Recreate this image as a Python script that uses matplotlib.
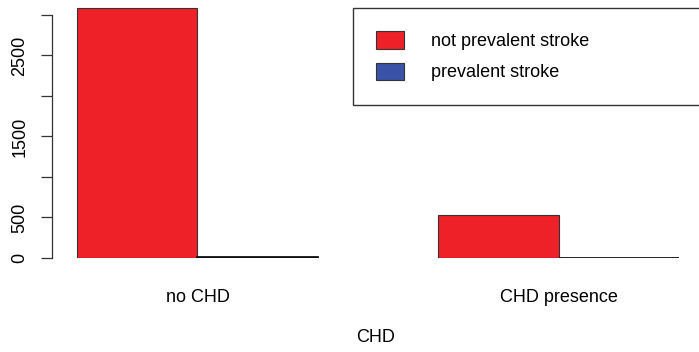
import numpy as np
import matplotlib
import matplotlib.pyplot as plt
from matplotlib.patches import Patch

matplotlib.use('Agg')

# Counts per CHD group, split by prevalent stroke
groups = ["no CHD", "CHD presence"]
not_stroke = [3090, 535]
stroke = [8, 5]
series_labels = ["not prevalent stroke", "prevalent stroke"]
colors = ["#EE2128", "#3A52A8"]

plt.rcParams['font.family'] = ['Liberation Sans', 'DejaVu Sans']

fig = plt.figure(figsize=(6.99, 3.52), dpi=100)
ax = fig.add_axes([52 / 699, (352 - 258) / 352, 1 - 52 / 699, 258 / 352])

# barplot(beside=TRUE) layout: one bar gap between groups
centers = np.array([2.0, 5.0])
ax.bar(centers - 0.5, not_stroke, width=1.0, color=colors[0],
       edgecolor="#333333", linewidth=0.8)
ax.bar(centers + 0.5, stroke, width=1.0, color=colors[1],
       edgecolor="#111111", linewidth=1.3)

ax.set_xlim(0.793, 6.162)
ax.set_ylim(0, 3185)

for s in ["top", "right", "bottom"]:
    ax.spines[s].set_visible(False)
ax.spines["left"].set_bounds(0, 3000)
ax.spines["left"].set_linewidth(0.9)
ax.spines["left"].set_color("#333333")

yticks = np.arange(0, 3001, 500)
ax.set_yticks(yticks)
ax.set_yticklabels([str(v) if v in (0, 500, 1500, 2500) else "" for v in yticks],
                   rotation=90, va="center", fontsize=13)
ax.tick_params(axis="y", length=8, width=0.9, color="#333333", pad=9)

ax.set_xticks(centers)
ax.set_xticklabels(groups, fontsize=13)
ax.tick_params(axis="x", length=0, pad=22)
ax.set_xlabel("CHD", fontsize=13, labelpad=17)

handles = [Patch(facecolor=c, edgecolor="#333333", linewidth=0.8) for c in colors]
leg = ax.legend(handles, series_labels, loc="upper left",
                bbox_to_anchor=(353 / 699, 1 - 8 / 352 - 0.5, 0.7, 0.5),
                bbox_transform=fig.transFigure, mode="expand",
                borderaxespad=0, fontsize=13, fancybox=False,
                handlelength=1.5, handleheight=1.1, handletextpad=1.5,
                labelspacing=0.68, borderpad=1.3)
leg.get_frame().set_edgecolor("#333333")
leg.get_frame().set_linewidth(1.0)
leg.get_frame().set_alpha(1)

fig.savefig("out.png", dpi=100)
